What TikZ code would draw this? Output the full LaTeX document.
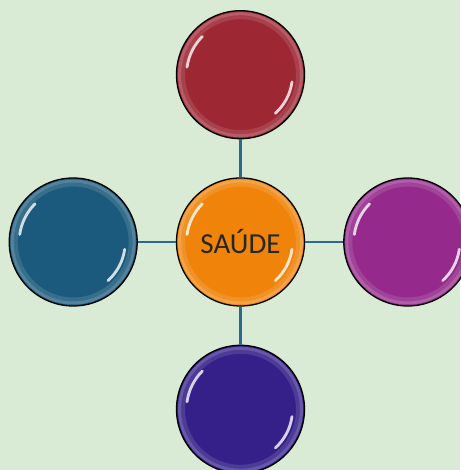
\documentclass[tikz,border=0pt]{standalone}
\usepackage{fontspec}
\setmainfont{Carlito}
\usepackage{tikz}
\usetikzlibrary{positioning}

\definecolor{fundo}{HTML}{D9EBD4}
\definecolor{ligacao}{HTML}{2A6890}
\definecolor{vermelho}{HTML}{9E2734}
\definecolor{azul}{HTML}{1B5A7C}
\definecolor{laranja}{HTML}{F0840A}
\definecolor{roxo}{HTML}{952A8C}
\definecolor{anil}{HTML}{35208A}

\tikzset{
  bolha/.style={circle, draw=black, line width=1.3pt, minimum size=128pt, inner sep=0pt},
  ligar/.style={ligacao, line width=2.6pt}
}

% brilho de uma bolha
\newcommand{\brilho}[1]{%
  \draw[white, opacity=0.12, line width=7pt] (#1.center) circle[radius=59pt];
  \draw[white, opacity=0.15, line width=3pt] (#1.center) circle[radius=61pt];
  \draw[white, opacity=0.8, line width=2.8pt, line cap=round]
    ([shift={(135:54pt)}]#1.center) arc[start angle=135, end angle=172, radius=54pt];
  \draw[white, opacity=0.8, line width=2.8pt, line cap=round]
    ([shift={(-8:52pt)}]#1.center) arc[start angle=-8, end angle=-48, radius=52pt];
}

\begin{document}
\begin{tikzpicture}[x=1pt, y=1pt, node distance=38pt]
    \fill[fundo] (0,0) rectangle (460,470);
    \useasboundingbox (0,0) rectangle (460,470);

    \node[bolha, fill=laranja] (saude) at (240.5,228) {};
    \node[bolha, fill=vermelho, above=of saude] (cima) {};
    \node[bolha, fill=azul, left=of saude] (esq) {};
    \node[bolha, fill=roxo, right=of saude] (dir) {};
    \node[bolha, fill=anil, below=of saude] (baixo) {};

    \draw[ligar] (saude) -- (cima);
    \draw[ligar] (saude) -- (esq);
    \draw[ligar] (saude) -- (dir);
    \draw[ligar] (saude) -- (baixo);

    \foreach \b in {saude, cima, esq, dir, baixo} {\brilho{\b}}

    \node[text=black!85, font=\fontsize{29}{32}\selectfont] (titulo) at (saude) {SAÚDE};
\end{tikzpicture}
\end{document}
